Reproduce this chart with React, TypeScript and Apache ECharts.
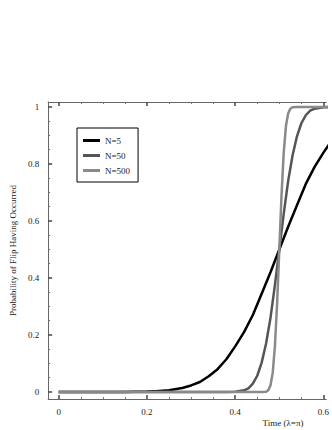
import React, { useEffect, useRef } from 'react';
import * as echarts from 'echarts';

const seriesNames = ['N=5', 'N=50', 'N=500'];
const seriesColors = ['#000000', '#555555', '#8a8a8a'];

const timeN5 = [0, 0.05, 0.1, 0.15, 0.2, 0.22, 0.25, 0.28, 0.3, 0.32, 0.34, 0.36, 0.38, 0.4, 0.42, 0.44, 0.46, 0.48, 0.5, 0.52, 0.54, 0.56, 0.58, 0.6, 0.62];
const probN5 = [0, 0, 0, 0.0002, 0.0015, 0.003, 0.006, 0.014, 0.023, 0.035, 0.055, 0.08, 0.115, 0.16, 0.21, 0.27, 0.345, 0.42, 0.5, 0.58, 0.655, 0.73, 0.79, 0.84, 0.885];

const timeN50 = [0, 0.38, 0.4, 0.42, 0.43, 0.44, 0.45, 0.46, 0.47, 0.48, 0.49, 0.5, 0.51, 0.52, 0.53, 0.54, 0.55, 0.56, 0.57, 0.58, 0.6, 0.62];
const probN50 = [0, 0, 0.001, 0.006, 0.013, 0.029, 0.057, 0.103, 0.17, 0.26, 0.375, 0.5, 0.625, 0.74, 0.83, 0.897, 0.943, 0.971, 0.987, 0.994, 0.999, 1];

const timeN500 = [0, 0.46, 0.47, 0.475, 0.48, 0.485, 0.49, 0.495, 0.5, 0.505, 0.51, 0.515, 0.52, 0.525, 0.53, 0.54, 0.62];
const probN500 = [0, 0, 0.001, 0.006, 0.023, 0.067, 0.16, 0.31, 0.5, 0.69, 0.84, 0.933, 0.977, 0.994, 0.999, 1, 1];

const xTickLabels = [0, 0.2, 0.4, 0.6];
const xMinorTicks = [0.05, 0.1, 0.15, 0.25, 0.3, 0.35, 0.45, 0.5, 0.55];
const yTickLabels = [0, 0.2, 0.4, 0.6, 0.8, 1];
const yMinorTicks = [0.05, 0.1, 0.15, 0.25, 0.3, 0.35, 0.45, 0.5, 0.55, 0.65, 0.7, 0.75, 0.85, 0.9, 0.95];

const yTitle = 'Probability of Flip Having Occurred';
const xTitle = 'Time (λ=π)';

const FONT = "'Liberation Serif', 'DejaVu Serif', serif";
const AXIS_COLOR = '#666';
const TEXT_COLOR = '#222';

const X_MIN = -0.0239;
const X_MAX = 0.6065;
const Y_MIN = -0.0246;
const Y_MAX = 1.0175;

function pairs(t: number[], p: number[]) {
  return t.map((v, i) => [v, p[i]]);
}

export default function App() {
  const ref = useRef<HTMLDivElement>(null);
  useEffect(() => {
    document.body.style.margin = '0';
    const chart = echarts.init(ref.current!, undefined, { renderer: 'svg' });
    const baseX = {
      type: 'value' as const,
      min: X_MIN,
      max: X_MAX,
      splitLine: { show: false },
    };
    const baseY = {
      type: 'value' as const,
      min: Y_MIN,
      max: Y_MAX,
      splitLine: { show: false },
    };
    const data = [pairs(timeN5, probN5), pairs(timeN50, probN50), pairs(timeN500, probN500)];
    chart.setOption({
      animation: false,
      backgroundColor: '#fff',
      grid: { left: 42, top: 102, right: 0, height: 297 },
      legend: {
        show: true,
        data: seriesNames,
        orient: 'vertical',
        left: 77,
        top: 128,
        borderColor: '#000',
        borderWidth: 1,
        padding: [8, 8, 7, 6],
        itemGap: 6,
        itemWidth: 17,
        itemHeight: 3,
        icon: 'rect',
        textStyle: { fontFamily: FONT, fontSize: 9, color: TEXT_COLOR },
      },
      xAxis: [
        {
          ...baseX,
          position: 'bottom',
          axisLine: { show: true, onZero: false, lineStyle: { color: AXIS_COLOR, width: 1 } },
          axisTick: { show: true, inside: true, length: 4, customValues: xTickLabels, lineStyle: { color: '#444', width: 1.5 } },
          axisLabel: { show: true, customValues: xTickLabels, margin: 8, fontFamily: FONT, fontSize: 9, color: TEXT_COLOR },
        },
        {
          ...baseX,
          position: 'bottom',
          axisLine: { show: false, onZero: false },
          axisTick: { show: true, inside: true, length: 2, customValues: xMinorTicks, lineStyle: { color: '#777', width: 1 } },
          axisLabel: { show: false },
        },
        {
          ...baseX,
          position: 'top',
          axisLine: { show: true, onZero: false, lineStyle: { color: AXIS_COLOR, width: 1 } },
          axisTick: { show: true, inside: true, length: 4, customValues: xTickLabels, lineStyle: { color: '#444', width: 1.5 } },
          axisLabel: { show: false },
        },
        {
          ...baseX,
          position: 'top',
          axisLine: { show: false, onZero: false },
          axisTick: { show: true, inside: true, length: 2, customValues: xMinorTicks, lineStyle: { color: '#777', width: 1 } },
          axisLabel: { show: false },
        },
      ],
      yAxis: [
        {
          ...baseY,
          position: 'left',
          name: yTitle,
          nameLocation: 'middle',
          nameRotate: 90,
          nameGap: 30,
          nameTextStyle: { fontFamily: FONT, fontSize: 9, color: TEXT_COLOR },
          axisLine: { show: true, onZero: false, lineStyle: { color: AXIS_COLOR, width: 1 } },
          axisTick: { show: true, inside: true, length: 4, customValues: yTickLabels, lineStyle: { color: '#444', width: 1.5 } },
          axisLabel: { show: true, customValues: yTickLabels, margin: 9, fontFamily: FONT, fontSize: 9, color: TEXT_COLOR },
        },
        {
          ...baseY,
          position: 'left',
          axisLine: { show: false, onZero: false },
          axisTick: { show: true, inside: true, length: 2, customValues: yMinorTicks, lineStyle: { color: '#777', width: 1 } },
          axisLabel: { show: false },
        },
      ],
      graphic: [
        {
          type: 'text',
          x: 283,
          y: 423,
          style: {
            text: xTitle,
            fontFamily: FONT,
            fontSize: 9,
            fill: TEXT_COLOR,
            align: 'center',
            verticalAlign: 'middle',
          },
        },
      ],
      series: seriesNames.map((name, i) => ({
        name,
        type: 'line',
        xAxisIndex: 0,
        yAxisIndex: 0,
        data: data[i],
        showSymbol: false,
        symbol: 'none',
        smooth: false,
        clip: true,
        lineStyle: { color: seriesColors[i], width: 2.5, join: 'round' },
        itemStyle: { color: seriesColors[i] },
      })),
    });
    return () => chart.dispose();
  }, []);
  return <div ref={ref} style={{ position: 'absolute', left: 0, top: 0, width: 332, height: 430 }} />;
}
